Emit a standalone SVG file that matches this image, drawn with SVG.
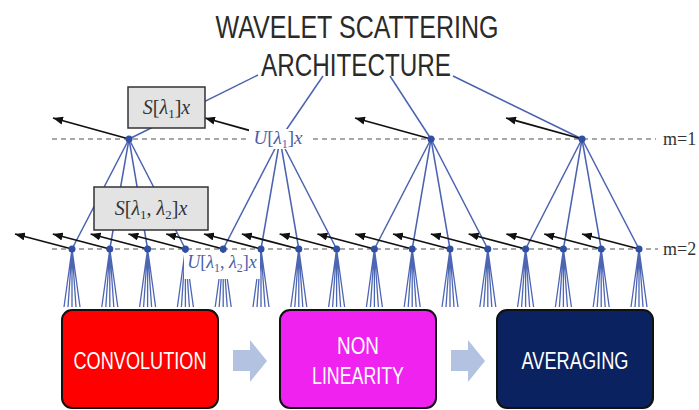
<svg xmlns="http://www.w3.org/2000/svg" width="699" height="410" viewBox="0 0 699 410">
<style>
.edge{stroke:#4a62b0;stroke-width:1.5;fill:none}
.fan{stroke:#4d66b4;stroke-width:1.3;fill:none}
.dash{stroke:#8a8a8a;stroke-width:1.3;stroke-dasharray:5 4;fill:none}
.arr{stroke:#111;stroke-width:1.8;fill:none;marker-end:url(#ah)}
.pt{fill:#2f4fa3}
.sbox{fill:#e3e3e3;stroke:#333;stroke-width:1.5}
.math{font-family:"Liberation Serif",serif;fill:#333}
.ulab{font-family:"Liberation Serif",serif;fill:#4c5ca8}
.it{font-style:italic}
.title{font-family:"Liberation Sans",Arial,sans-serif;font-size:31px;fill:#2a2a2a;text-anchor:middle}
.blk{stroke:#111;stroke-width:2}
.btxt{font-family:"Liberation Sans",Arial,sans-serif;font-size:23px;fill:#fff;text-anchor:middle}
.mlab{font-family:"Liberation Serif",serif;font-size:18px;fill:#333}
.barrow{fill:#b4c2e2}
</style>
<defs>
<marker id="ah" markerUnits="userSpaceOnUse" markerWidth="10" markerHeight="8" refX="10" refY="4" orient="auto">
<path d="M0,0 L10,4 L0,8 z" fill="#111"/>
</marker>
</defs>
<rect width="699" height="410" fill="#fff"/>

<g id="title">
<text class="title" x="357" y="38" textLength="283" lengthAdjust="spacingAndGlyphs">WAVELET SCATTERING</text>
<text class="title" x="356" y="76" textLength="190" lengthAdjust="spacingAndGlyphs">ARCHITECTURE</text>
</g>

<g id="connectors">
<line class="dash" x1="52" y1="139" x2="656" y2="139"/>
<line class="dash" x1="52" y1="249" x2="658" y2="249"/>
<g id="root-edges">
<line class="edge" x1="258" y1="75" x2="129" y2="139"/>
<line class="edge" x1="323" y1="76" x2="280" y2="139"/>
<line class="edge" x1="390" y1="76" x2="431" y2="139"/>
<line class="edge" x1="453" y1="76" x2="582" y2="139"/>
</g>
<g id="level1-edges">
<line class="edge" x1="129" y1="139" x2="72" y2="249"/>
<line class="edge" x1="129" y1="139" x2="109.8" y2="249"/>
<line class="edge" x1="129" y1="139" x2="147.6" y2="249"/>
<line class="edge" x1="129" y1="139" x2="185.4" y2="249"/>
<line class="edge" x1="280" y1="139" x2="223.2" y2="249"/>
<line class="edge" x1="280" y1="139" x2="261" y2="249"/>
<line class="edge" x1="280" y1="139" x2="298.8" y2="249"/>
<line class="edge" x1="280" y1="139" x2="336.6" y2="249"/>
<line class="edge" x1="431" y1="139" x2="374.4" y2="249"/>
<line class="edge" x1="431" y1="139" x2="412.2" y2="249"/>
<line class="edge" x1="431" y1="139" x2="450" y2="249"/>
<line class="edge" x1="431" y1="139" x2="487.8" y2="249"/>
<line class="edge" x1="582" y1="139" x2="525.6" y2="249"/>
<line class="edge" x1="582" y1="139" x2="563.4" y2="249"/>
<line class="edge" x1="582" y1="139" x2="601.2" y2="249"/>
<line class="edge" x1="582" y1="139" x2="639" y2="249"/>
</g>
<g id="fans">
<path class="fan" d="M72,249L64,307M72,249L68,307M72,249L72,307M72,249L76,307M72,249L80,307"/>
<path class="fan" d="M109.8,249L101.8,307M109.8,249L105.8,307M109.8,249L109.8,307M109.8,249L113.8,307M109.8,249L117.8,307"/>
<path class="fan" d="M147.6,249L139.6,307M147.6,249L143.6,307M147.6,249L147.6,307M147.6,249L151.6,307M147.6,249L155.6,307"/>
<path class="fan" d="M185.4,249L177.4,307M185.4,249L181.4,307M185.4,249L185.4,307M185.4,249L189.4,307M185.4,249L193.4,307"/>
<path class="fan" d="M223.2,249L215.2,307M223.2,249L219.2,307M223.2,249L223.2,307M223.2,249L227.2,307M223.2,249L231.2,307"/>
<path class="fan" d="M261,249L253,307M261,249L257,307M261,249L261,307M261,249L265,307M261,249L269,307"/>
<path class="fan" d="M298.8,249L290.8,307M298.8,249L294.8,307M298.8,249L298.8,307M298.8,249L302.8,307M298.8,249L306.8,307"/>
<path class="fan" d="M336.6,249L328.6,307M336.6,249L332.6,307M336.6,249L336.6,307M336.6,249L340.6,307M336.6,249L344.6,307"/>
<path class="fan" d="M374.4,249L366.4,307M374.4,249L370.4,307M374.4,249L374.4,307M374.4,249L378.4,307M374.4,249L382.4,307"/>
<path class="fan" d="M412.2,249L404.2,307M412.2,249L408.2,307M412.2,249L412.2,307M412.2,249L416.2,307M412.2,249L420.2,307"/>
<path class="fan" d="M450,249L442,307M450,249L446,307M450,249L450,307M450,249L454,307M450,249L458,307"/>
<path class="fan" d="M487.8,249L479.8,307M487.8,249L483.8,307M487.8,249L487.8,307M487.8,249L491.8,307M487.8,249L495.8,307"/>
<path class="fan" d="M525.6,249L517.6,307M525.6,249L521.6,307M525.6,249L525.6,307M525.6,249L529.6,307M525.6,249L533.6,307"/>
<path class="fan" d="M563.4,249L555.4,307M563.4,249L559.4,307M563.4,249L563.4,307M563.4,249L567.4,307M563.4,249L571.4,307"/>
<path class="fan" d="M601.2,249L593.2,307M601.2,249L597.2,307M601.2,249L601.2,307M601.2,249L605.2,307M601.2,249L609.2,307"/>
<path class="fan" d="M639,249L631,307M639,249L635,307M639,249L639,307M639,249L643,307M639,249L647,307"/>
</g>
<g id="level1-arrows">
<line class="arr" x1="129" y1="139" x2="53" y2="118"/>
<line class="arr" x1="280" y1="139" x2="205" y2="118"/>
<line class="arr" x1="431" y1="139" x2="355" y2="118"/>
<line class="arr" x1="582" y1="139" x2="506" y2="118"/>
</g>
<g id="level2-arrows">
<line class="arr" x1="72" y1="249" x2="15" y2="234"/>
<line class="arr" x1="109.8" y1="249" x2="52.8" y2="234"/>
<line class="arr" x1="147.6" y1="249" x2="90.6" y2="234"/>
<line class="arr" x1="185.4" y1="249" x2="128.4" y2="234"/>
<line class="arr" x1="223.2" y1="249" x2="166.2" y2="234"/>
<line class="arr" x1="261" y1="249" x2="204" y2="234"/>
<line class="arr" x1="298.8" y1="249" x2="241.8" y2="234"/>
<line class="arr" x1="336.6" y1="249" x2="279.6" y2="234"/>
<line class="arr" x1="374.4" y1="249" x2="317.4" y2="234"/>
<line class="arr" x1="412.2" y1="249" x2="355.2" y2="234"/>
<line class="arr" x1="450" y1="249" x2="393" y2="234"/>
<line class="arr" x1="487.8" y1="249" x2="430.8" y2="234"/>
<line class="arr" x1="525.6" y1="249" x2="468.6" y2="234"/>
<line class="arr" x1="563.4" y1="249" x2="506.4" y2="234"/>
<line class="arr" x1="601.2" y1="249" x2="544.2" y2="234"/>
<line class="arr" x1="639" y1="249" x2="582" y2="234"/>
</g>
<g id="flow-arrows">
<polygon class="barrow" points="233,350 250,350 250,340 267,361 250,382 250,371 233,371"/>
<polygon class="barrow" points="451,350 468,350 468,340 485,361 468,382 468,371 451,371"/>
</g>
</g>

<g id="m1-nodes">
<g id="n1-1"><circle class="pt" cx="129" cy="139" r="3.5"/></g>
<g id="n1-2"><circle class="pt" cx="280" cy="139" r="3.5"/></g>
<g id="n1-3"><circle class="pt" cx="431" cy="139" r="3.5"/></g>
<g id="n1-4"><circle class="pt" cx="582" cy="139" r="3.5"/></g>
</g>
<g id="m2-nodes">
<g id="n2-1"><circle class="pt" cx="72" cy="249" r="3.5"/></g>
<g id="n2-2"><circle class="pt" cx="109.8" cy="249" r="3.5"/></g>
<g id="n2-3"><circle class="pt" cx="147.6" cy="249" r="3.5"/></g>
<g id="n2-4"><circle class="pt" cx="185.4" cy="249" r="3.5"/></g>
<g id="n2-5"><circle class="pt" cx="223.2" cy="249" r="3.5"/></g>
<g id="n2-6"><circle class="pt" cx="261" cy="249" r="3.5"/></g>
<g id="n2-7"><circle class="pt" cx="298.8" cy="249" r="3.5"/></g>
<g id="n2-8"><circle class="pt" cx="336.6" cy="249" r="3.5"/></g>
<g id="n2-9"><circle class="pt" cx="374.4" cy="249" r="3.5"/></g>
<g id="n2-10"><circle class="pt" cx="412.2" cy="249" r="3.5"/></g>
<g id="n2-11"><circle class="pt" cx="450" cy="249" r="3.5"/></g>
<g id="n2-12"><circle class="pt" cx="487.8" cy="249" r="3.5"/></g>
<g id="n2-13"><circle class="pt" cx="525.6" cy="249" r="3.5"/></g>
<g id="n2-14"><circle class="pt" cx="563.4" cy="249" r="3.5"/></g>
<g id="n2-15"><circle class="pt" cx="601.2" cy="249" r="3.5"/></g>
<g id="n2-16"><circle class="pt" cx="639" cy="249" r="3.5"/></g>
</g>

<g id="s1-box">
<rect class="sbox" x="128" y="87" width="77" height="41"/>
<text class="math" x="166.5" y="114" text-anchor="middle" font-size="20"><tspan class="it">S</tspan>[<tspan class="it">λ</tspan><tspan font-size="13" dy="4">1</tspan><tspan dy="-4">]</tspan><tspan class="it">x</tspan></text>
</g>
<g id="s2-box">
<rect class="sbox" x="94" y="187" width="114" height="43"/>
<text class="math" x="151" y="215" text-anchor="middle" font-size="20"><tspan class="it">S</tspan>[<tspan class="it">λ</tspan><tspan font-size="13" dy="4">1</tspan><tspan dy="-4">, </tspan><tspan class="it">λ</tspan><tspan font-size="13" dy="4">2</tspan><tspan dy="-4">]</tspan><tspan class="it">x</tspan></text>
</g>
<g id="u1-label">
<rect x="249" y="129" width="60" height="20" fill="#fff"/>
<text class="ulab" x="278" y="144" text-anchor="middle" font-size="19"><tspan class="it">U</tspan>[<tspan class="it">λ</tspan><tspan font-size="12" dy="4">1</tspan><tspan dy="-4">]</tspan><tspan class="it">x</tspan></text>
</g>
<g id="u2-label">
<rect x="184" y="253" width="76" height="26" fill="#fff"/>
<text class="ulab" x="222" y="268" text-anchor="middle" font-size="18"><tspan class="it">U</tspan>[<tspan class="it">λ</tspan><tspan font-size="12" dy="4">1</tspan><tspan dy="-4">, </tspan><tspan class="it">λ</tspan><tspan font-size="12" dy="4">2</tspan><tspan dy="-4">]</tspan><tspan class="it">x</tspan></text>
</g>
<g id="m-labels">
<text class="mlab" x="663" y="145">m=1</text>
<text class="mlab" x="663" y="255">m=2</text>
</g>

<g id="convolution">
<rect class="blk" x="62" y="310" width="156" height="98" rx="10" fill="#ff0000"/>
<text class="btxt" x="140" y="369" textLength="133" lengthAdjust="spacingAndGlyphs">CONVOLUTION</text>
</g>
<g id="nonlinearity">
<rect class="blk" x="280" y="310" width="156" height="98" rx="10" fill="#ef22ef"/>
<text class="btxt" x="358" y="354" textLength="42" lengthAdjust="spacingAndGlyphs">NON</text>
<text class="btxt" x="358" y="384" textLength="92" lengthAdjust="spacingAndGlyphs">LINEARITY</text>
</g>
<g id="averaging">
<rect class="blk" x="497" y="310" width="156" height="98" rx="10" fill="#0b2260"/>
<text class="btxt" x="575" y="369" textLength="107" lengthAdjust="spacingAndGlyphs">AVERAGING</text>
</g>
</svg>
